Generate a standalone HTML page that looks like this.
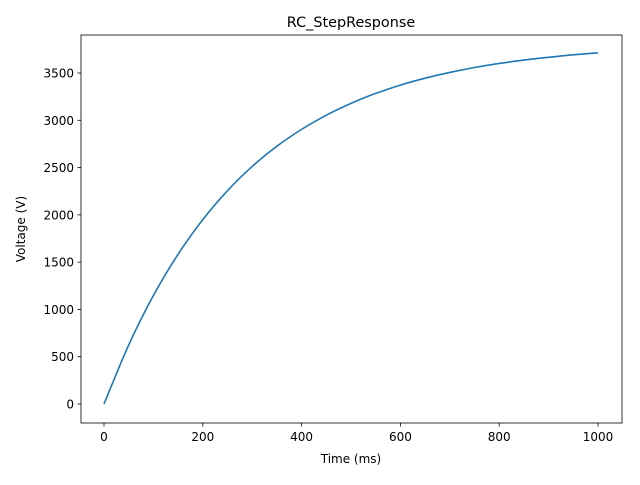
<!DOCTYPE html>
<html><head><meta charset="utf-8"><style>
body{margin:0;background:#fff;}
svg text{font-family:"DejaVu Sans","Liberation Sans",sans-serif;fill:#000;}
</style></head><body>
<svg id="chart" width="640" height="480" viewBox="0 0 640 480" xmlns="http://www.w3.org/2000/svg">
<rect width="640" height="480" fill="#fff"/>
<text x="351" y="27" font-size="14.4" text-anchor="middle">RC_StepResponse</text>
<text x="351" y="463" font-size="12" text-anchor="middle">Time (ms)</text>
<text x="25" y="229" font-size="12" text-anchor="middle" transform="rotate(-90 25 229)">Voltage (V)</text>
<g id="ticks"></g>
<path id="line" fill="none" stroke="#1f77b4" stroke-width="1.6"/>
<rect x="81" y="35" width="541" height="388" fill="none" stroke="#000" stroke-width="0.8"/>
</svg>
<script>
const times=[0,50,100,150,200,250,300,350,400,450,500,550,600,650,700,750,800,850,900,950,1000];
const volts=[0,624,1147,1584,1950,2256,2512,2726,2904,3054,3179,3284,3372,3445,3506,3558,3601,3637,3666,3692,3713];
const xTicks=[0,200,400,600,800,1000];
const yTicks=[0,500,1000,1500,2000,2500,3000,3500];
function xs(t){return 104+t*0.494;}
function ys(v){return 404-v*0.09457;}
const NS="http://www.w3.org/2000/svg";
const g=document.getElementById('ticks');
xTicks.forEach(t=>{
 const l=document.createElementNS(NS,'line');
 
 
 l.setAttribute('x1',xs(t));l.setAttribute('x2',xs(t));l.setAttribute('y1',423);l.setAttribute('y2',426.5);l.setAttribute('stroke','#000');l.setAttribute('stroke-width','0.8');g.appendChild(l);
 const tx=document.createElementNS(NS,'text');
 
 
 tx.setAttribute('x',xs(t));tx.setAttribute('y',441);tx.setAttribute('font-size','12');tx.setAttribute('text-anchor','middle');tx.textContent=t;g.appendChild(tx);
});
yTicks.forEach(v=>{
 const l=document.createElementNS(NS,'line');
 
 
 l.setAttribute('x1',77.5);l.setAttribute('x2',81);l.setAttribute('y1',ys(v));l.setAttribute('y2',ys(v));l.setAttribute('stroke','#000');l.setAttribute('stroke-width','0.8');g.appendChild(l);
 const tx=document.createElementNS(NS,'text');
 
 
 tx.setAttribute('x',74);tx.setAttribute('y',ys(v)+4.5);tx.setAttribute('font-size','12');tx.setAttribute('text-anchor','end');tx.textContent=v;g.appendChild(tx);
});
const P=times.map((t,i)=>[xs(t),ys(volts[i])]);
let d='M'+P[0][0].toFixed(2)+' '+P[0][1].toFixed(2);
for(let i=0;i<P.length-1;i++){
 const p0=P[Math.max(0,i-1)],p1=P[i],p2=P[i+1],p3=P[Math.min(P.length-1,i+2)];
 const c1=[p1[0]+(p2[0]-p0[0])/6,p1[1]+(p2[1]-p0[1])/6];
 const c2=[p2[0]-(p3[0]-p1[0])/6,p2[1]-(p3[1]-p1[1])/6];
 d+=' C'+c1[0].toFixed(2)+' '+c1[1].toFixed(2)+' '+c2[0].toFixed(2)+' '+c2[1].toFixed(2)+' '+p2[0].toFixed(2)+' '+p2[1].toFixed(2);
}
document.getElementById('line').setAttribute('d',d);
</script>
</body></html>
